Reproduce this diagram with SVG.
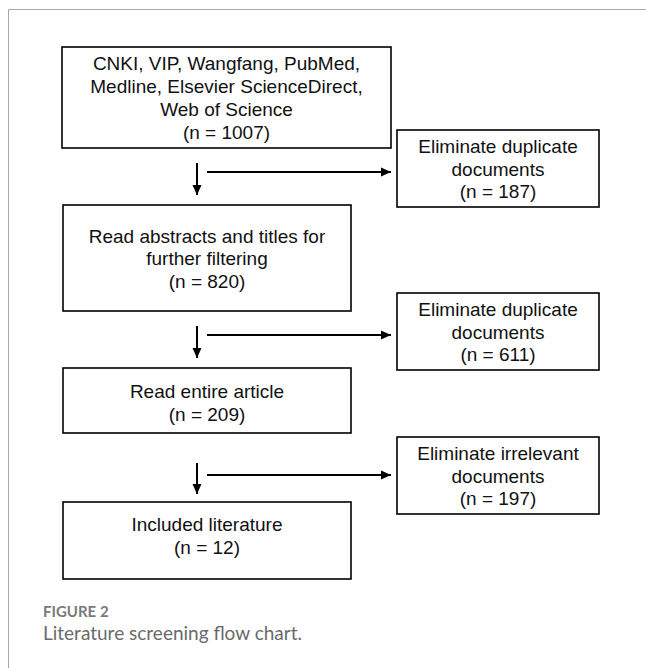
<svg xmlns="http://www.w3.org/2000/svg" width="646" height="668" viewBox="0 0 646 668">
<style>
.box{fill:#fff;stroke:#000;stroke-width:1.6}
.t{font-family:"Liberation Sans",Arial,sans-serif;font-size:19px;fill:#111;text-anchor:middle}
.c{stroke:#000;stroke-width:2;fill:none}
.cap1{font-family:Lato,"Open Sans",sans-serif;font-size:15px;font-weight:bold;fill:#7a7a7a}
.cap2{font-family:Lato,"Open Sans",sans-serif;font-size:19px;fill:#6a6a6a}
</style>
<defs>
<marker id="ah" markerUnits="userSpaceOnUse" markerWidth="10" markerHeight="10" refX="10" refY="5" orient="auto">
<path d="M0,0.5 L10,5 L0,9.5 Z" fill="#000"/>
</marker>
</defs>
<rect width="646" height="668" fill="#fff"/>
<path d="M8.5,668 V9.5 H646" fill="none" stroke="#a8a8a8" stroke-width="1"/>
<g id="n1"><rect class="box" x="62" y="47" width="329" height="101"/>
<text class="t" x="226.5" y="70">CNKI, VIP, Wangfang, PubMed,</text>
<text class="t" x="226.5" y="93">Medline, Elsevier ScienceDirect,</text>
<text class="t" x="226.5" y="116">Web of Science</text>
<text class="t" x="226.5" y="139">(n = 1007)</text></g>
<g id="e1"><rect class="box" x="397" y="130" width="202" height="77"/>
<text class="t" x="498" y="153">Eliminate duplicate</text>
<text class="t" x="498" y="176">documents</text>
<text class="t" x="498" y="198">(n = 187)</text></g>
<g id="n2"><rect class="box" x="63" y="205" width="288" height="106"/>
<text class="t" x="207" y="243">Read abstracts and titles for</text>
<text class="t" x="207" y="265">further filtering</text>
<text class="t" x="207" y="288">(n = 820)</text></g>
<g id="e2"><rect class="box" x="397" y="293" width="202" height="77"/>
<text class="t" x="498" y="316">Eliminate duplicate</text>
<text class="t" x="498" y="339">documents</text>
<text class="t" x="498" y="361">(n = 611)</text></g>
<g id="n3"><rect class="box" x="63" y="368" width="288" height="65"/>
<text class="t" x="207" y="398">Read entire article</text>
<text class="t" x="207" y="421">(n = 209)</text></g>
<g id="e3"><rect class="box" x="397" y="437" width="202" height="77"/>
<text class="t" x="498" y="460">Eliminate irrelevant</text>
<text class="t" x="498" y="483">documents</text>
<text class="t" x="498" y="505">(n = 197)</text></g>
<g id="n4"><rect class="box" x="63" y="502" width="288" height="77"/>
<text class="t" x="207" y="531">Included literature</text>
<text class="t" x="207" y="554">(n = 12)</text></g>
<g id="connectors">
<path class="c" d="M197,163 V195" marker-end="url(#ah)"/>
<path class="c" d="M207,172 H391" marker-end="url(#ah)"/>
<path class="c" d="M197,326 V358" marker-end="url(#ah)"/>
<path class="c" d="M207,335 H391" marker-end="url(#ah)"/>
<path class="c" d="M197,463 V494" marker-end="url(#ah)"/>
<path class="c" d="M207,475 H391" marker-end="url(#ah)"/>
</g>
<text class="cap1" x="43" y="617">FIGURE 2</text>
<text class="cap2" x="43" y="640">Literature screening flow chart.</text>
</svg>
